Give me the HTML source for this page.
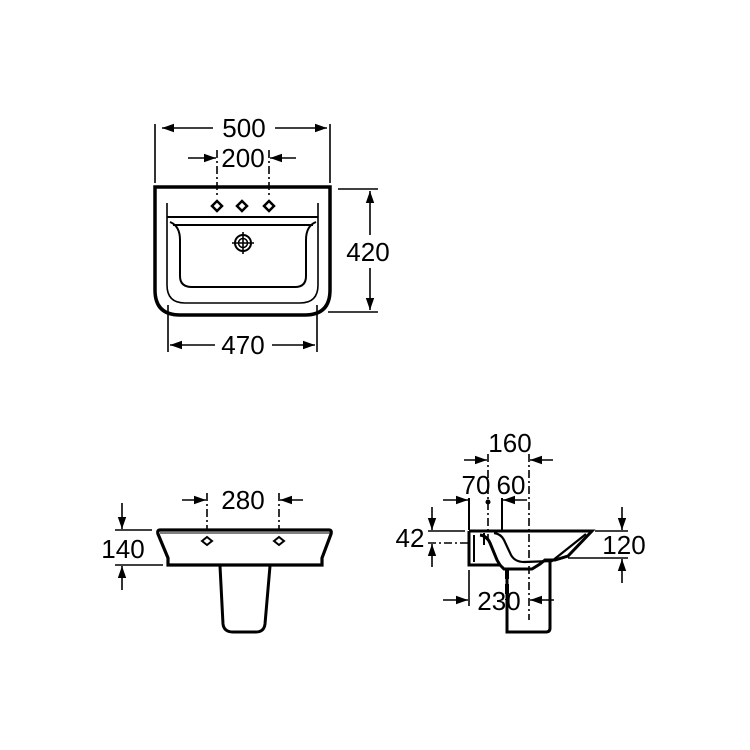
<!DOCTYPE html>
<html><head><meta charset="utf-8"><style>
html,body{margin:0;padding:0;background:#fff}
svg{display:block}
text{font-family:"Liberation Sans",sans-serif;font-size:26px;fill:#000}
</style></head><body>
<svg width="750" height="750" viewBox="0 0 750 750" xmlns="http://www.w3.org/2000/svg">
<defs>
<marker id="a" viewBox="0 0 10 10" refX="10" refY="5" markerWidth="12" markerHeight="12" markerUnits="userSpaceOnUse" orient="auto-start-reverse"><path d="M0,1.5 L10,5 L0,8.5 Z" fill="#000"/></marker>
</defs>
<g fill="none" stroke="#000" stroke-width="1.6">
<!-- TOP VIEW -->
<path d="M155,187 H330 V290 Q330,315 305,315 H180 Q155,315 155,290 Z" stroke-width="3.5"/>
<path d="M167,203 V285 Q167,303 185,303 H300 Q318,303 318,285 V203"/>
<line x1="167" y1="217" x2="318" y2="217" stroke-width="2"/>
<path d="M170,222 Q180,226 180,240 V276 Q180,287 192,287 H295 Q306,287 306,276 V240 Q306,226 316,222" stroke-width="2"/>
<line x1="173" y1="225" x2="313" y2="225" stroke-width="2"/>
<circle cx="243" cy="243" r="8" stroke-width="2"/><circle cx="243" cy="243" r="4.5" stroke-width="1.5"/>
<line x1="232" y1="243" x2="254" y2="243"/><line x1="243" y1="232" x2="243" y2="254"/>
<g stroke-width="2.5"><path d="M217,201 L222,206 L217,211 L212,206 Z"/><path d="M242,201 L247,206 L242,211 L237,206 Z"/><path d="M269,201 L274,206 L269,211 L264,206 Z"/></g>
<!-- dims top -->
<line x1="155" y1="124" x2="155" y2="183"/><line x1="330" y1="124" x2="330" y2="183"/>
<line x1="162" y1="128" x2="213" y2="128" marker-start="url(#a)"/><line x1="275" y1="128" x2="327" y2="128" marker-end="url(#a)"/>
<line x1="188" y1="158" x2="216" y2="158" marker-end="url(#a)"/><line x1="296" y1="158" x2="270" y2="158" marker-end="url(#a)"/>
<line x1="217" y1="150" x2="217" y2="198" stroke-dasharray="8 3 2 3"/><line x1="269" y1="150" x2="269" y2="198" stroke-dasharray="8 3 2 3"/>
<line x1="338" y1="189" x2="378" y2="189"/><line x1="328" y1="312" x2="378" y2="312"/>
<line x1="370" y1="235" x2="370" y2="191" marker-end="url(#a)"/><line x1="370" y1="268" x2="370" y2="310" marker-end="url(#a)"/>
<line x1="168" y1="305" x2="168" y2="352"/><line x1="317" y1="305" x2="317" y2="352"/>
<line x1="215" y1="345" x2="170" y2="345" marker-end="url(#a)"/><line x1="272" y1="345" x2="315" y2="345" marker-end="url(#a)"/>
<!-- FRONT VIEW -->
<path d="M160,530 H329 Q332,530 331,534 L322,558 V565 H168 V558 L158,534 Q157,530 160,530 Z" stroke-width="3.2"/>
<line x1="160" y1="533" x2="330" y2="533" stroke-width="1"/>
<path d="M220,566 L223,624 Q224,632 233,632 H256 Q264,632 265,624 L270,566" stroke-width="3"/>
<path d="M207,537 L212,541 L207,545 L202,541 Z" stroke-width="2"/><path d="M279,537 L284,541 L279,545 L274,541 Z" stroke-width="2"/>
<line x1="207" y1="493" x2="207" y2="530" stroke-dasharray="8 3 2 3"/><line x1="279" y1="493" x2="279" y2="530" stroke-dasharray="8 3 2 3"/>
<line x1="182" y1="500" x2="206" y2="500" marker-end="url(#a)"/><line x1="303" y1="500" x2="280" y2="500" marker-end="url(#a)"/>
<line x1="115" y1="530" x2="152" y2="530"/><line x1="115" y1="565" x2="163" y2="565"/>
<line x1="122" y1="503" x2="122" y2="529" marker-end="url(#a)"/><line x1="122" y1="590" x2="122" y2="566" marker-end="url(#a)"/>
<!-- SIDE VIEW -->
<path d="M469,531 H592 L568,556 L555,560 L545,560 L540,564 L532,569 H504 L500,565 L497,560 L490,543 Q487,536 480,535" stroke-width="3"/>
<path d="M469,531 V565 H500" stroke-width="3"/>
<path d="M494,533 Q501,534 504,540 L511,555 Q515,562 524,562 L552,561 L586,534" stroke-width="2.2"/>
<line x1="474" y1="535" x2="474" y2="562" stroke-width="2"/><line x1="484" y1="533" x2="484" y2="545" stroke-width="2"/>
<path d="M507,569 V632 H546 Q550,632 550,628 V560" stroke-width="3"/>
<line x1="507" y1="569" x2="507" y2="600" stroke-width="4" stroke-dasharray="10 5"/>
<line x1="488" y1="454" x2="488" y2="540" stroke-dasharray="8 3 2 3"/>
<line x1="529" y1="454" x2="529" y2="620" stroke-dasharray="8 3 2 3"/>
<line x1="464" y1="460" x2="487" y2="460" marker-end="url(#a)"/><line x1="553" y1="460" x2="530" y2="460" marker-end="url(#a)"/>
<line x1="469" y1="498" x2="469" y2="530" stroke-width="2"/><line x1="502" y1="498" x2="502" y2="530" stroke-width="2"/>
<line x1="443" y1="500" x2="468" y2="500" marker-end="url(#a)"/><line x1="527" y1="500" x2="503" y2="500" marker-end="url(#a)"/>
<line x1="469" y1="570" x2="469" y2="606"/>
<line x1="443" y1="600" x2="468" y2="600" marker-end="url(#a)"/><line x1="554" y1="600" x2="530" y2="600" marker-end="url(#a)"/>
<line x1="428" y1="531" x2="465" y2="531"/><line x1="428" y1="543" x2="468" y2="543" stroke-dasharray="8 3 2 3"/>
<line x1="432" y1="507" x2="432" y2="530" marker-end="url(#a)"/><line x1="432" y1="567" x2="432" y2="544" marker-end="url(#a)"/>
<line x1="595" y1="531" x2="628" y2="531"/><line x1="568" y1="558" x2="628" y2="558"/>
<line x1="622" y1="507" x2="622" y2="530" marker-end="url(#a)"/><line x1="622" y1="583" x2="622" y2="559" marker-end="url(#a)"/>
</g>
<circle cx="488" cy="502" r="2.5" fill="#000"/>
<g text-anchor="middle">
<text x="244" y="137">500</text>
<text x="243" y="167">200</text>
<text x="368" y="261">420</text>
<text x="243" y="354">470</text>
<text x="243" y="509">280</text>
<text x="123" y="558">140</text>
<text x="510" y="452">160</text>
<text x="476" y="494">70</text>
<text x="511" y="494">60</text>
<text x="410" y="547">42</text>
<text x="624" y="554">120</text>
<text x="499" y="610">230</text>
</g>
</svg>
</body></html>
